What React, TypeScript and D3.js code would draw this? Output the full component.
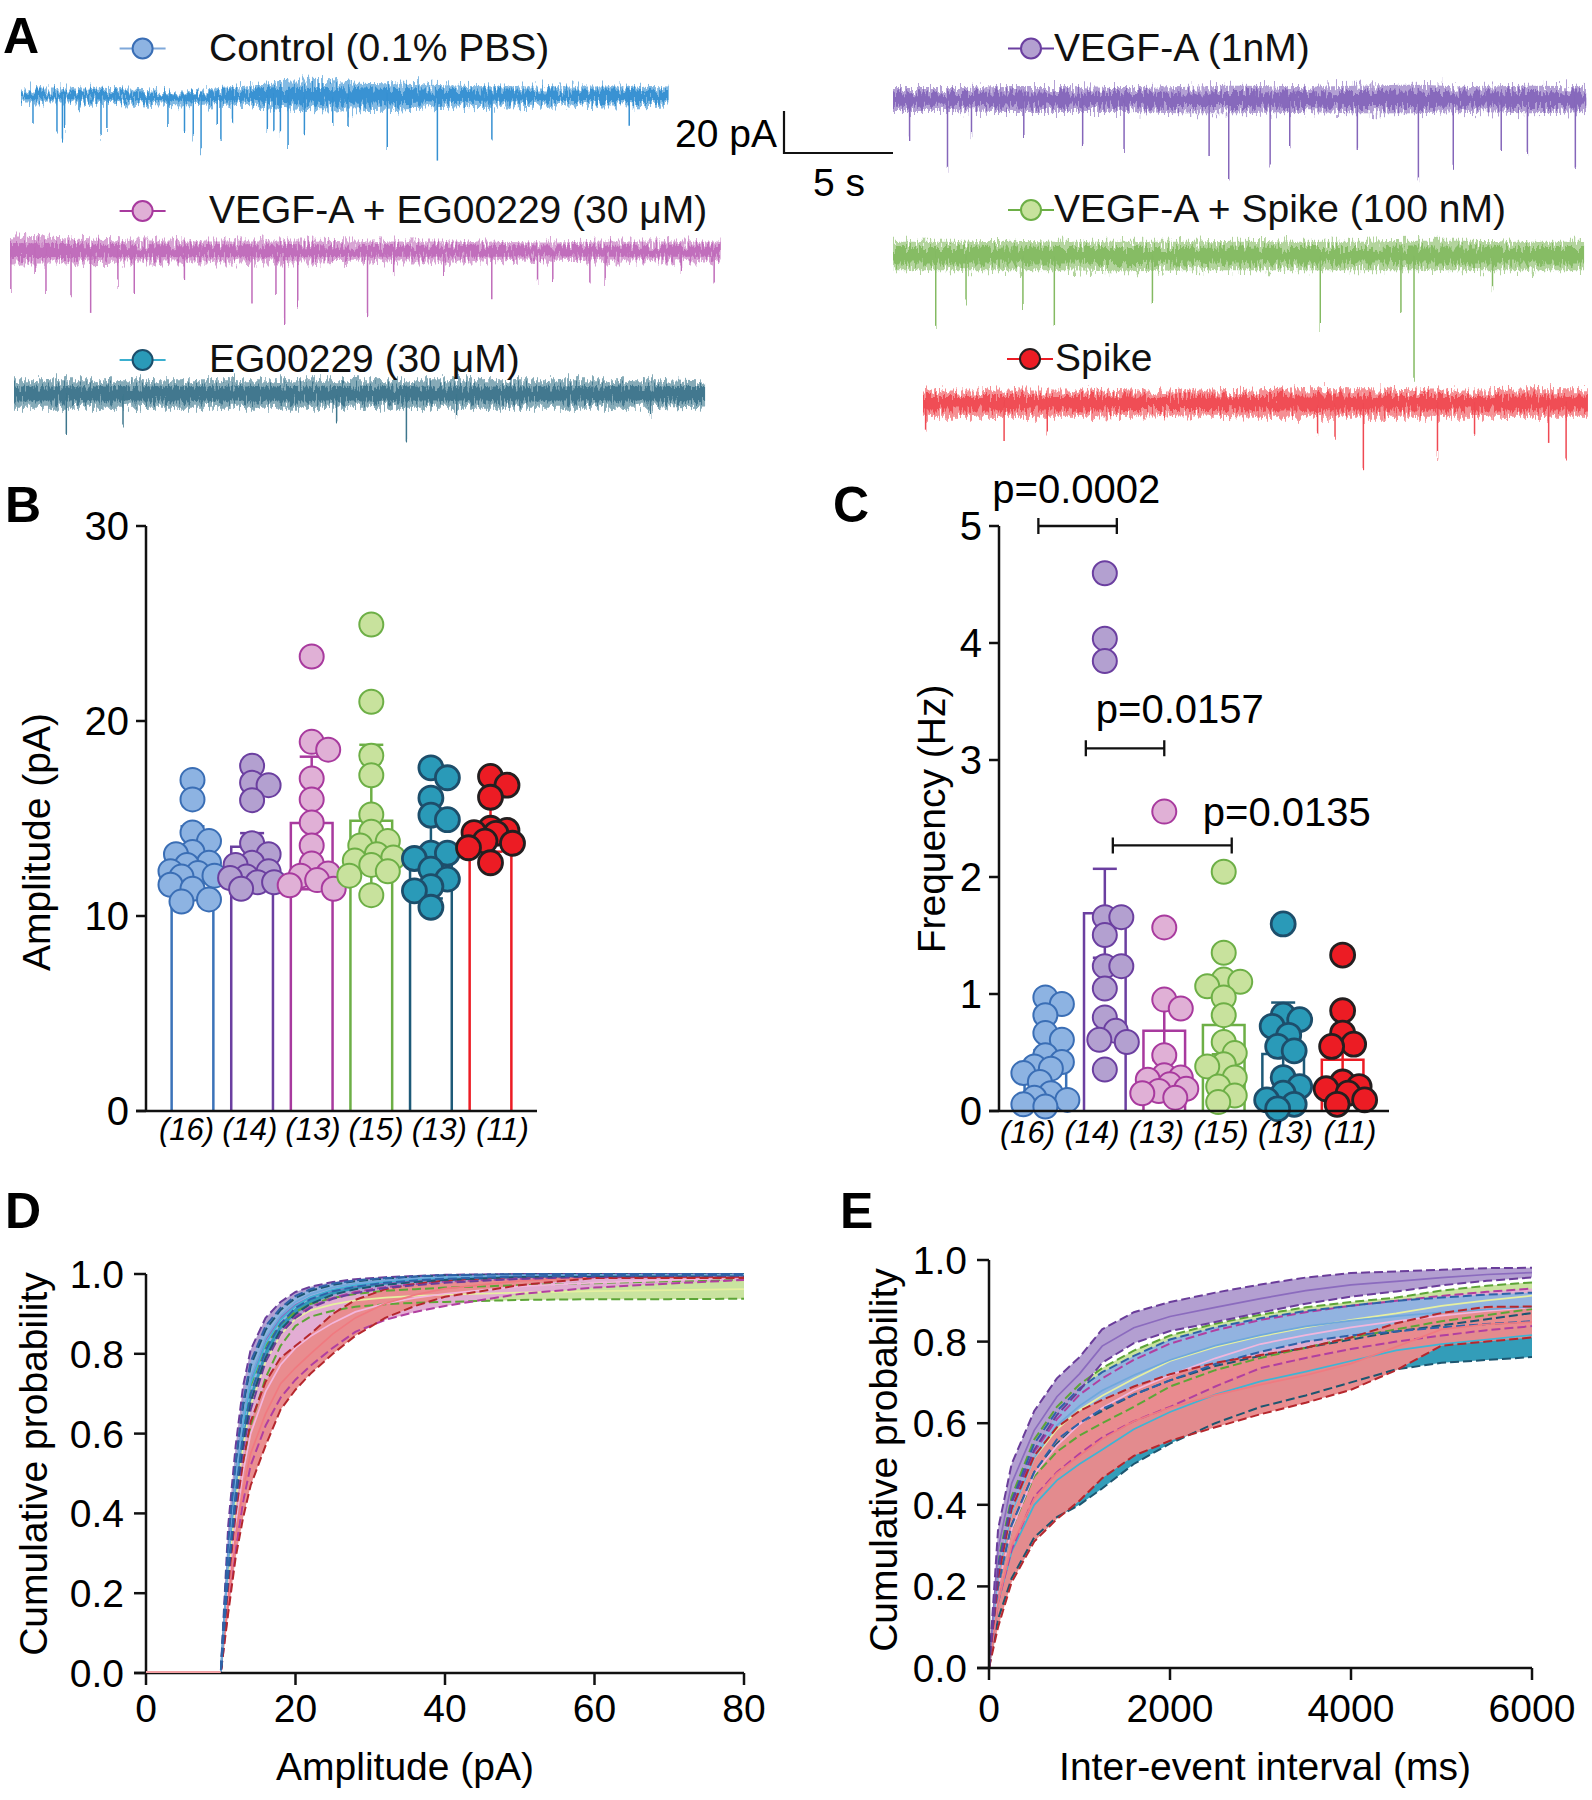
import React from 'react';
import * as d3 from 'd3';

const FONT = "'Liberation Sans', Arial, Helvetica, sans-serif";

// ---------------- Groups ----------------
const groupLabels = ['Control (0.1% PBS)', 'VEGF-A (1nM)', 'VEGF-A + EG00229 (30 μM)', 'VEGF-A + Spike (100 nM)', 'EG00229 (30 μM)', 'Spike'];
const groupN = ['(16)', '(14)', '(13)', '(15)', '(13)', '(11)'];

// ---------------- Panel A: traces (time s, amplitude pA) ----------------
const traceDur = [29.7, 31.8, 32.6, 31.7, 31.7, 30.5];
const envControlTop = [3.3, 3.3, 2.9, 1.9, 3.8, 6.7, 6.2, 5.7, 4.8, 4.3, 4.3, 4.3, 3.8];
const envControlBot = [3.3, 3.3, 3.8, 5.2, 4.3, 6.7, 7.1, 6.7, 5.7, 5.2, 4.8, 4.8, 4.3];
const envVegfTop = [5.5, 5.5, 6, 6, 5.5, 6, 6.5, 6, 6.5, 7, 6, 6.5, 6];
const envVegfBot = [5.5, 5.5, 6, 6, 6, 6.5, 6.5, 6, 6.5, 6.5, 6, 6.5, 6];
const envPinkTop = [7, 6, 5, 5, 5, 5, 4.5, 4.5, 4.5, 4, 4.5, 4.5, 4.5];
const envPinkBot = [6, 6, 5.5, 5.5, 5.5, 5.5, 5, 5, 5, 4.5, 5, 5, 5];
const envGreenTop = [6.5, 6.5, 7, 6.5, 6.5, 6.5, 7, 6.5, 6.5, 7, 7, 6.5, 6.5];
const envGreenBot = [7, 7, 7, 7, 7.5, 7, 7, 7, 7, 7, 7, 7, 7];
const envTealTop = [6.5, 6.5, 6.5, 6.5, 6.5, 6.5, 6.5, 6.5, 6.5, 6.5, 6.5, 6.5, 6];
const envTealBot = [6.5, 6.5, 6.5, 6.5, 6.5, 6.5, 6.5, 6.5, 6.5, 6.5, 6.5, 6.5, 6];
const envRedTop = [6, 6, 6, 6, 5.5, 5.5, 6, 6.5, 6.5, 6, 6, 6.5, 6.5];
const envRedBot = [6.5, 6.5, 6.5, 6.5, 6, 6, 6.5, 6.5, 6.5, 6.5, 6.5, 6.5, 6.5];

const evControl = [[0.55, 12], [1.65, 19], [1.9, 21], [2.0, 15], [2.66, 8], [3.67, 19], [3.94, 15.5], [6.74, 14], [7.5, 17], [7.9, 20], [8.26, 27], [9.0, 12], [9.17, 21], [9.7, 12], [11.3, 16], [11.6, 17], [11.9, 18], [12.25, 25.5], [13.0, 17], [14.3, 14], [15, 15], [16.8, 25], [19.1, 31], [21.6, 21], [27.9, 13]];
const evVegf = [[0.76, 19.5], [2.5, 33], [3.6, 16.5], [6.0, 16.5], [8.7, 22.7], [10.6, 25], [14.5, 26.5], [15.4, 40], [17.3, 30.5], [18.2, 22.7], [21.3, 24], [24.1, 39], [25.7, 33], [27.9, 25], [29.1, 24], [31.3, 33]];
const evPink = [[0.04, 21], [1.15, 11], [1.65, 19], [2.8, 22], [3.7, 29], [4.95, 16], [5.7, 19.5], [8, 15], [11.1, 26], [12.2, 19.5], [12.6, 34], [13.2, 26], [16.4, 31], [17.6, 11], [19.9, 11], [22.1, 23], [24.2, 15], [24.9, 13], [26.6, 15], [27.3, 15], [30.8, 10], [32.3, 15]];
const evGreen = [[1.96, 33.5], [3.35, 21], [5.96, 23.6], [7.4, 33.5], [11.9, 22.6], [19.6, 35], [23.3, 27], [23.9, 58.7], [27.5, 17]];
const evTeal = [[2.4, 19], [5, 16], [14.8, 14], [18, 22.6], [20.3, 12], [29.2, 12]];
const evRed = [[0.12, 12.7], [3.72, 17], [5.7, 15], [18.1, 14], [18.9, 17.5], [20.2, 32], [23.6, 25], [25.3, 16], [28.7, 19], [29.5, 27.4]];

// ---------------- Panel B: amplitude (pA) ----------------
const ampControl = [16.98, 15.98, 14.28, 13.84, 13.28, 13.17, 12.73, 12.62, 12.3, 12.2, 12.07, 12.02, 11.6, 11.4, 10.85, 10.74];
const ampVegf = [17.71, 16.83, 16.71, 15.94, 13.73, 13.17, 12.73, 12.62, 12.29, 12.02, 11.95, 11.73, 11.73, 11.4];
const ampVegfEg = [23.31, 18.93, 18.53, 17.05, 15.98, 14.79, 13.62, 12.69, 12.18, 12.07, 11.84, 11.58, 11.4];
const ampVegfSpike = [24.95, 20.99, 18.22, 17.22, 15.21, 14.32, 13.84, 13.62, 13.17, 13.0, 12.84, 12.62, 12.29, 12.07, 11.07];
const ampEg = [17.6, 17.09, 16.05, 15.17, 14.94, 13.22, 13.22, 12.95, 12.4, 11.89, 11.51, 11.29, 10.45];
const ampSpike = [17.16, 16.71, 16.09, 14.5, 14.39, 14.28, 14.24, 13.84, 13.73, 13.5, 12.73];
const ampMean = [12.8, 13.55, 14.77, 14.88, 13.0, 14.7];
const ampErr = [1.8, 0.7, 3.4, 3.9, 2.1, 1.4];
const ampTicks = [0, 10, 20, 30];

// ---------------- Panel C: frequency (Hz) ----------------
const freqControl = [0.971, 0.914, 0.819, 0.666, 0.609, 0.476, 0.419, 0.381, 0.362, 0.324, 0.248, 0.152, 0.114, 0.095, 0.057, 0.038];
const freqVegf = [4.596, 4.037, 3.846, 1.657, 1.657, 1.504, 1.238, 1.238, 1.047, 0.8, 0.685, 0.609, 0.59, 0.354];
const freqVegfEg = [2.559, 1.569, 0.952, 0.876, 0.476, 0.305, 0.286, 0.267, 0.228, 0.19, 0.171, 0.152, 0.114];
const freqVegfSpike = [2.045, 1.352, 1.123, 1.104, 1.066, 0.971, 0.819, 0.59, 0.495, 0.4, 0.381, 0.286, 0.209, 0.133, 0.076];
const freqEg = [1.599, 0.819, 0.781, 0.724, 0.647, 0.552, 0.514, 0.286, 0.209, 0.152, 0.095, 0.057, 0.019];
const freqSpike = [1.333, 0.857, 0.666, 0.571, 0.552, 0.248, 0.209, 0.19, 0.152, 0.095, 0.057];
const freqMean = [0.40, 1.69, 0.685, 0.735, 0.487, 0.438];
const freqErr = [0.12, 0.38, 0.25, 0.25, 0.44, 0.15];
const freqTicks = [0, 1, 2, 3, 4, 5];
const sigPairs = [[0, 1], [1, 2], [1, 3]];
const sigLevels = [5.0, 3.1, 2.27];
const sigLabels = ['p=0.0002', 'p=0.0157', 'p=0.0135'];

// ---------------- Panel D: cumulative amplitude ----------------
const dX = [0, 10, 11, 12, 13, 14, 16, 18, 20, 22, 25, 28, 32, 36, 40, 50, 60, 70, 80];
const dBlueHi = [0, 0, 0.33, 0.53, 0.68, 0.78, 0.87, 0.915, 0.945, 0.962, 0.976, 0.984, 0.99, 0.994, 0.997, 1, 1, 1, 1];
const dBlueLo = [0, 0, 0.26, 0.45, 0.6, 0.7, 0.81, 0.875, 0.915, 0.937, 0.957, 0.968, 0.978, 0.984, 0.988, 0.994, 0.996, 0.997, 0.997];
const dPurpleHi = [0, 0, 0.37, 0.57, 0.72, 0.81, 0.89, 0.93, 0.955, 0.968, 0.98, 0.987, 0.992, 0.995, 0.998, 1, 1, 1, 1];
const dPurpleLo = [0, 0, 0.24, 0.42, 0.56, 0.66, 0.78, 0.85, 0.89, 0.915, 0.938, 0.952, 0.965, 0.972, 0.978, 0.988, 0.993, 0.995, 0.996];
const dTealHi = [0, 0, 0.32, 0.52, 0.67, 0.77, 0.86, 0.91, 0.94, 0.958, 0.973, 0.982, 0.988, 0.993, 0.996, 0.999, 1, 1, 1];
const dTealLo = [0, 0, 0.25, 0.44, 0.58, 0.68, 0.79, 0.86, 0.9, 0.925, 0.948, 0.962, 0.973, 0.98, 0.985, 0.993, 0.995, 0.996, 0.997];
const dPinkHi = [0, 0, 0.26, 0.44, 0.58, 0.68, 0.79, 0.855, 0.895, 0.918, 0.94, 0.955, 0.967, 0.975, 0.981, 0.988, 0.991, 0.993, 0.995];
const dPinkLo = [0, 0, 0.16, 0.31, 0.43, 0.52, 0.62, 0.69, 0.735, 0.77, 0.815, 0.855, 0.885, 0.905, 0.92, 0.95, 0.966, 0.976, 0.985];
const dGreenHi = [0, 0, 0.28, 0.48, 0.62, 0.72, 0.82, 0.875, 0.905, 0.925, 0.94, 0.95, 0.958, 0.962, 0.966, 0.972, 0.977, 0.982, 0.986];
const dGreenLo = [0, 0, 0.2, 0.38, 0.52, 0.62, 0.74, 0.82, 0.87, 0.893, 0.908, 0.918, 0.924, 0.928, 0.93, 0.935, 0.937, 0.937, 0.938];
const dRedHi = [0, 0, 0.22, 0.4, 0.53, 0.63, 0.73, 0.79, 0.82, 0.85, 0.9, 0.935, 0.962, 0.975, 0.984, 0.993, 0.993, 0.993, 0.993];
const dRedLo = [0, 0, 0.15, 0.29, 0.39, 0.47, 0.57, 0.66, 0.71, 0.75, 0.8, 0.845, 0.89, 0.92, 0.943, 0.972, 0.99, 0.99, 0.99];

// ---------------- Panel E: cumulative inter-event interval ----------------
const eX = [0, 100, 250, 500, 750, 1000, 1250, 1600, 2000, 2500, 3000, 3500, 4000, 4500, 5000, 5500, 6000];
const ePurpleHi = [0, 0.34, 0.5, 0.63, 0.71, 0.762, 0.83, 0.872, 0.897, 0.92, 0.94, 0.957, 0.968, 0.972, 0.976, 0.98, 0.981];
const ePurpleLo = [0, 0.24, 0.405, 0.535, 0.62, 0.68, 0.748, 0.796, 0.826, 0.848, 0.871, 0.893, 0.91, 0.923, 0.938, 0.949, 0.957];
const eGreenHi = [0, 0.26, 0.42, 0.56, 0.64, 0.695, 0.735, 0.778, 0.815, 0.844, 0.866, 0.884, 0.897, 0.908, 0.925, 0.937, 0.945];
const eGreenLo = [0, 0.2, 0.34, 0.47, 0.53, 0.57, 0.6, 0.64, 0.69, 0.73, 0.76, 0.785, 0.81, 0.83, 0.85, 0.865, 0.88];
const eBlueHi = [0, 0.25, 0.41, 0.55, 0.63, 0.685, 0.725, 0.765, 0.805, 0.835, 0.857, 0.875, 0.888, 0.9, 0.908, 0.915, 0.92];
const eBlueLo = [0, 0.2, 0.35, 0.48, 0.56, 0.6, 0.635, 0.67, 0.705, 0.745, 0.775, 0.8, 0.815, 0.825, 0.835, 0.843, 0.85];
const ePinkHi = [0, 0.24, 0.39, 0.53, 0.61, 0.67, 0.71, 0.755, 0.795, 0.828, 0.853, 0.872, 0.888, 0.9, 0.912, 0.922, 0.93];
const ePinkLo = [0, 0.16, 0.29, 0.42, 0.48, 0.525, 0.565, 0.605, 0.64, 0.69, 0.735, 0.76, 0.782, 0.8, 0.815, 0.828, 0.838];
const eRedHi = [0, 0.22, 0.39, 0.52, 0.59, 0.63, 0.657, 0.69, 0.72, 0.748, 0.767, 0.785, 0.81, 0.845, 0.87, 0.885, 0.886];
const eRedLo = [0, 0.1, 0.21, 0.31, 0.365, 0.41, 0.465, 0.52, 0.557, 0.59, 0.622, 0.65, 0.682, 0.73, 0.79, 0.8, 0.81];
const eTealHi = [0, 0.2, 0.35, 0.48, 0.55, 0.6, 0.63, 0.67, 0.705, 0.74, 0.765, 0.785, 0.805, 0.825, 0.84, 0.855, 0.87];
const eTealLo = [0, 0.12, 0.22, 0.32, 0.37, 0.4, 0.44, 0.5, 0.55, 0.6, 0.64, 0.668, 0.7, 0.732, 0.748, 0.755, 0.762];

const probTicks = [0, 0.2, 0.4, 0.6, 0.8, 1.0];
const dTicks = [0, 20, 40, 60, 80];
const eTicks = [0, 2000, 4000, 6000];

// ---------------- Styles ----------------
const dotFill = ['#8DB3E2', '#B3A0D0', '#E0B0D6', '#C8E29D', '#2A9AB8', '#EC1C24'];
const dotStroke = ['#3A6EB5', '#6B3FA0', '#A83A9E', '#6DAF46', '#1D4E6B', '#231F20'];
const barStroke = ['#3B73B9', '#6B3FA0', '#A83A9E', '#6DAF46', '#1D5A78', '#EC1C24'];
const legendLine = ['#7FA8DA', '#6B3FA0', '#A83A9E', '#6DAF46', '#3AAFCF', '#EC1C24'];
const traceColor = ['#3590D2', '#8566BA', '#C06CBA', '#84BA62', '#3E768D', '#EF4A52'];
const bandFill = { blue: '#8FB3E0', purple: '#B19CCF', pink: '#E2AAD3', green: '#C7E29C', teal: '#2C9AB7', red: '#E98A8C' };
const bandLine = { blue: '#2F62A8', purple: '#6A3D9A', pink: '#B13FA0', green: '#5DA537', teal: '#1D5670', red: '#B5272D' };
const bandMid = { blue: '#6FA8DC', purple: '#8B6BBE', pink: '#F2B6DD', green: '#E6F0A0', teal: '#3FB4D4', red: '#F07A80' };

const PX_PER_S = 21.8;
const PX_PER_PA = 2.1;
const FS = 39;

function Trace({ x0, yc, dur, top, bot, events, color }: any) {
  const xs = d3.scaleLinear().domain([0, dur]).range([x0, x0 + dur * PX_PER_S]);
  const ys = d3.scaleLinear().domain([0, 20]).range([yc, yc - 20 * PX_PER_PA]);
  const idx = d3.scaleLinear().domain([0, top.length - 1]).range([0, dur]);
  const pts = top.map((t: number, i: number) => ({ t: idx(i), up: t, dn: bot[i] }));
  const outer = d3.area<any>().x(d => xs(d.t)).y0(d => ys(-d.dn)).y1(d => ys(d.up)).curve(d3.curveMonotoneX);
  const inner = d3.area<any>().x(d => xs(d.t)).y0(d => ys(-d.dn * 0.55)).y1(d => ys(d.up * 0.55)).curve(d3.curveMonotoneX);
  return (
    <g filter="url(#traceNoise)">
      <path d={outer(pts) || ''} fill={color} opacity={0.62} />
      <path d={inner(pts) || ''} fill={color} opacity={0.95} />
      {events.map(([t, a]: number[], i: number) => (
        <line key={i} x1={xs(t)} x2={xs(t)} y1={yc} y2={ys(-a)} stroke={color} strokeWidth={1.5} />
      ))}
    </g>
  );
}

function LegendItem({ x, y, g, label, textX }: any) {
  return (
    <g>
      <line x1={x - 23} x2={x + 23} y1={y} y2={y} stroke={legendLine[g]} strokeWidth={2} />
      <circle cx={x} cy={y} r={10} fill={dotFill[g]} stroke={dotStroke[g]} strokeWidth={2} />
      <text x={textX} y={y + 12} fontSize={FS} fill="#111">{label}</text>
    </g>
  );
}

function PanelA() {
  const traces = [
    { x0: 21, yc: 95.5, top: envControlTop, bot: envControlBot, ev: evControl, g: 0 },
    { x0: 893, yc: 99.5, top: envVegfTop, bot: envVegfBot, ev: evVegf, g: 1 },
    { x0: 10, yc: 251, top: envPinkTop, bot: envPinkBot, ev: evPink, g: 2 },
    { x0: 893, yc: 255.5, top: envGreenTop, bot: envGreenBot, ev: evGreen, g: 3 },
    { x0: 14, yc: 394, top: envTealTop, bot: envTealBot, ev: evTeal, g: 4 },
    { x0: 923, yc: 403, top: envRedTop, bot: envRedBot, ev: evRed, g: 5 },
  ];
  const legendPos = [[142.6, 48.5, 209], [1031, 48.5, 1054], [142.6, 211, 209], [1031, 210, 1054], [142.6, 360, 209], [1030, 359, 1055]];
  return (
    <g>
      <text x={3} y={53} fontSize={50} fontWeight="bold">A</text>
      {traces.map((t, i) => (
        <Trace key={i} x0={t.x0} yc={t.yc} dur={traceDur[t.g]} top={t.top} bot={t.bot} events={t.ev} color={traceColor[t.g]} />
      ))}
      {legendPos.map((p, i) => (
        <LegendItem key={i} x={p[0]} y={p[1]} textX={p[2]} g={i} label={groupLabels[i]} />
      ))}
      <path d={`M784,${153 - 20 * PX_PER_PA} V153 H${784 + 5 * PX_PER_S}`} fill="none" stroke="#111" strokeWidth={2.2} />
      <text x={777} y={147} fontSize={FS} textAnchor="end">20 pA</text>
      <text x={839} y={196} fontSize={FS} textAnchor="middle">5 s</text>
    </g>
  );
}

function swarm(vals: number[], yf: (v: number) => number, minDist = 15.5, step = 5.5, maxOff = 22) {
  const placed: { x: number; y: number }[] = [];
  const offsets = [0];
  for (let k = 1; k * step <= maxOff + 0.01; k++) offsets.push(k * step, -k * step);
  return vals.map(v => {
    const py = yf(v);
    let best = 0, bestD = -1;
    for (const o of offsets) {
      let dmin = Infinity;
      for (const p of placed) dmin = Math.min(dmin, Math.hypot(p.x - o, p.y - py));
      if (dmin >= minDist) { best = o; bestD = dmin; break; }
      if (dmin > bestD) { bestD = dmin; best = o; }
    }
    placed.push({ x: best, y: py });
    return { dx: best, y: py };
  });
}

function DotBarPanel({ axisX, axisEnd, yScale, ticks, data, means, errs, letter, letterX, title, titleX, titleY, labelStart, labelStep, labelY, children }: any) {
  const xb = d3.scaleBand<number>().domain(d3.range(6)).range([axisX, axisEnd]).paddingInner(0.3).paddingOuter(0.43);
  const xl = d3.scaleLinear().domain([0, 1]).range([axisX + labelStart, axisX + labelStart + labelStep]);
  const y0 = yScale(0);
  const yTop = yScale(ticks[ticks.length - 1]);
  return (
    <g>
      <text x={letterX} y={522} fontSize={50} fontWeight="bold">{letter}</text>
      <text transform={`translate(${titleX},${titleY}) rotate(-90)`} textAnchor="middle" dy="0.35em" fontSize={FS}>{title}</text>
      {means.map((m: number, i: number) => (
        <path key={'b' + i}
          d={`M${xb(i)},${y0} V${yScale(m)} H${(xb(i) as number) + xb.bandwidth()} V${y0}`}
          fill="#fff" stroke={barStroke[i]} strokeWidth={2.5} />
      ))}
      {means.map((m: number, i: number) => {
        const cx = (xb(i) as number) + xb.bandwidth() / 2;
        return (
          <g key={'e' + i} stroke={barStroke[i]} strokeWidth={2.5}>
            <line x1={cx} x2={cx} y1={yScale(m - errs[i])} y2={yScale(m + errs[i])} />
            <line x1={cx - 12} x2={cx + 12} y1={yScale(m + errs[i])} y2={yScale(m + errs[i])} />
            <line x1={cx - 12} x2={cx + 12} y1={yScale(m - errs[i])} y2={yScale(m - errs[i])} />
          </g>
        );
      })}
      {data.map((vals: number[], i: number) => {
        const cx = (xb(i) as number) + xb.bandwidth() / 2;
        const pos = swarm(vals, yScale);
        return (
          <g key={'d' + i}>
            {pos.map((p, j) => (
              <circle key={j} cx={cx + p.dx} cy={p.y} r={12} fill={dotFill[i]} stroke={dotStroke[i]} strokeWidth={i >= 4 ? 2.8 : 2} />
            ))}
          </g>
        );
      })}
      <line x1={axisX} x2={axisX} y1={y0} y2={yTop} stroke="#111" strokeWidth={2.5} />
      <line x1={axisX - 10} x2={axisEnd} y1={y0} y2={y0} stroke="#111" strokeWidth={2.5} />
      {ticks.map((t: number) => (
        <g key={t}>
          <line x1={axisX - 10} x2={axisX} y1={yScale(t)} y2={yScale(t)} stroke="#111" strokeWidth={2.5} />
          <text x={axisX - 17} y={yScale(t)} dy="0.36em" textAnchor="end" fontSize={40}>{String(t)}</text>
        </g>
      ))}
      {groupN.map((n, i) => (
        <text key={n + i} x={xl(i)} y={labelY} textAnchor="middle" fontSize={31} fontStyle="italic">{n}</text>
      ))}
      {children && children(xb)}
    </g>
  );
}

function PanelB() {
  const y = d3.scaleLinear().domain([0, 30]).range([1111, 526]);
  return (
    <DotBarPanel axisX={146} axisEnd={537} yScale={y} ticks={ampTicks}
      data={[ampControl, ampVegf, ampVegfEg, ampVegfSpike, ampEg, ampSpike]}
      means={ampMean} errs={ampErr} letter="B" letterX={5}
      title="Amplitude (pA)" titleX={36} titleY={842}
      labelStart={40.5} labelStep={63.2} labelY={1140} />
  );
}

function PanelC() {
  const y = d3.scaleLinear().domain([0, 5]).range([1111, 526]);
  const bracketEnds = [[-7, 12], [-19, 0], [8, 8]];
  const labelStart = [-46, 10, 90];
  const labelLift = [23, 25, 19];
  return (
    <DotBarPanel axisX={999} axisEnd={1389} yScale={y} ticks={freqTicks}
      data={[freqControl, freqVegf, freqVegfEg, freqVegfSpike, freqEg, freqSpike]}
      means={freqMean} errs={freqErr} letter="C" letterX={833}
      title="Frequency (Hz)" titleX={931} titleY={819}
      labelStart={28.5} labelStep={64.5} labelY={1143}>
      {(xb: any) => (
        <g>
          {sigPairs.map(([a, b], i) => {
            const ca = xb(a) + xb.bandwidth() / 2 + bracketEnds[i][0];
            const cb = xb(b) + xb.bandwidth() / 2 + bracketEnds[i][1];
            const yy = y(sigLevels[i]);
            return (
              <g key={i}>
                <path d={`M${ca},${yy - 8} V${yy + 8} M${ca},${yy} H${cb} M${cb},${yy - 8} V${yy + 8}`} stroke="#111" strokeWidth={2.3} fill="none" />
                <text x={ca + labelStart[i]} y={yy - labelLift[i]} fontSize={40}>{sigLabels[i]}</text>
              </g>
            );
          })}
        </g>
      )}
    </DotBarPanel>
  );
}

function CumPanel({ xs, ys, xVals, bands, xTicks, letter, letterX, titleX, titleY, xTitle, xTitleX, baseColor }: any) {
  const area = (lo: number[], hi: number[]) =>
    d3.area<number>().x((_, i) => xs(xVals[i])).y0((_, i) => ys(lo[i])).y1((_, i) => ys(hi[i]))(lo) || '';
  const line = (v: number[]) => d3.line<number>().x((_, i) => xs(xVals[i])).y(d => ys(d))(v) || '';
  const x0 = xs.range()[0], x1 = xs.range()[1];
  const y0 = ys(0), y1 = ys(1);
  return (
    <g>
      <text x={letterX} y={1228} fontSize={50} fontWeight="bold">{letter}</text>
      <text transform={`translate(${titleX},${titleY}) rotate(-90)`} textAnchor="middle" dy="0.35em" fontSize={FS}>Cumulative probability</text>
      <text x={xTitleX} y={1780} textAnchor="middle" fontSize={FS}>{xTitle}</text>
      {bands.map((b: any, i: number) => (
        <path key={'f' + i} d={area(b.lo, b.hi)} fill={b.fill} opacity={0.97} />
      ))}
      {bands.map((b: any, i: number) => {
        const mid = b.lo.map((v: number, k: number) => (v + b.hi[k]) / 2);
        return (
          <g key={'l' + i} fill="none">
            <path d={line(mid)} stroke={b.mid} strokeWidth={1.7} />
            <path d={line(b.hi)} stroke={b.line} strokeWidth={2} strokeDasharray="9 4" />
            <path d={line(b.lo)} stroke={b.line} strokeWidth={2} strokeDasharray="9 4" />
          </g>
        );
      })}
      <line x1={x0} x2={x0} y1={y0} y2={y1} stroke="#111" strokeWidth={2.5} />
      <line x1={x0 - 12} x2={x1} y1={y0} y2={y0} stroke="#111" strokeWidth={2.5} />
      {baseColor && (
        <line x1={xs(xVals[0])} x2={xs(xVals[1])} y1={y0 - 1} y2={y0 - 1} stroke={baseColor} strokeWidth={2.2} />
      )}
      {probTicks.map(t => (
        <g key={t}>
          <line x1={x0 - 12} x2={x0} y1={ys(t)} y2={ys(t)} stroke="#111" strokeWidth={2.5} />
          <text x={x0 - 22} y={ys(t)} dy="0.36em" textAnchor="end" fontSize={FS}>{d3.format('.1f')(t)}</text>
        </g>
      ))}
      {xTicks.map((t: number) => (
        <g key={t}>
          <line x1={xs(t)} x2={xs(t)} y1={y0} y2={y0 + 12} stroke="#111" strokeWidth={2.5} />
          <text x={xs(t)} y={1722} textAnchor="middle" fontSize={FS}>{t}</text>
        </g>
      ))}
    </g>
  );
}

const mk = (k: string, lo: number[], hi: number[]) => ({ lo, hi, fill: (bandFill as any)[k], line: (bandLine as any)[k], mid: (bandMid as any)[k] });

function PanelD() {
  const xs = d3.scaleLinear().domain([0, 80]).range([146, 744]);
  const ys = d3.scaleLinear().domain([0, 1]).range([1673, 1274]);
  const bands = [
    mk('green', dGreenLo, dGreenHi),
    mk('pink', dPinkLo, dPinkHi),
    mk('red', dRedLo, dRedHi),
    mk('purple', dPurpleLo, dPurpleHi),
    mk('teal', dTealLo, dTealHi),
    mk('blue', dBlueLo, dBlueHi),
  ];
  return <CumPanel xs={xs} ys={ys} xVals={dX} bands={bands} xTicks={dTicks} letter="D" letterX={5}
    titleX={33} titleY={1464} xTitle="Amplitude (pA)" xTitleX={405} baseColor="#F2A0A4" />;
}

function PanelE() {
  const xs = d3.scaleLinear().domain([0, 6000]).range([989, 1532]);
  const ys = d3.scaleLinear().domain([0, 1]).range([1668, 1260]);
  const bands = [
    mk('teal', eTealLo, eTealHi),
    mk('green', eGreenLo, eGreenHi),
    mk('pink', ePinkLo, ePinkHi),
    mk('blue', eBlueLo, eBlueHi),
    mk('red', eRedLo, eRedHi),
    mk('purple', ePurpleLo, ePurpleHi),
  ];
  return <CumPanel xs={xs} ys={ys} xVals={eX} bands={bands} xTicks={eTicks} letter="E" letterX={840}
    titleX={883} titleY={1460} xTitle="Inter-event interval (ms)" xTitleX={1265} />;
}

export default function App() {
  return (
    <svg width={1592} height={1800} style={{ position: 'absolute', left: 0, top: 0, display: 'block' }} fontFamily={FONT}>
      <defs>
        <filter id="traceNoise" x="-2%" y="-60%" width="104%" height="220%">
          <feTurbulence type="fractalNoise" baseFrequency="0.5 0.07" numOctaves={2} seed={7} result="n" />
          <feColorMatrix in="n" type="matrix" values="0 0 0 0 0.5  1 0 0 0 0  0 0 0 0 0  0 0 0 0 1" result="m" />
          <feDisplacementMap in="SourceGraphic" in2="m" scale={22} xChannelSelector="R" yChannelSelector="G" />
        </filter>
      </defs>
      <rect width={1592} height={1800} fill="#fff" />
      <PanelA />
      <PanelB />
      <PanelC />
      <PanelD />
      <PanelE />
    </svg>
  );
}
